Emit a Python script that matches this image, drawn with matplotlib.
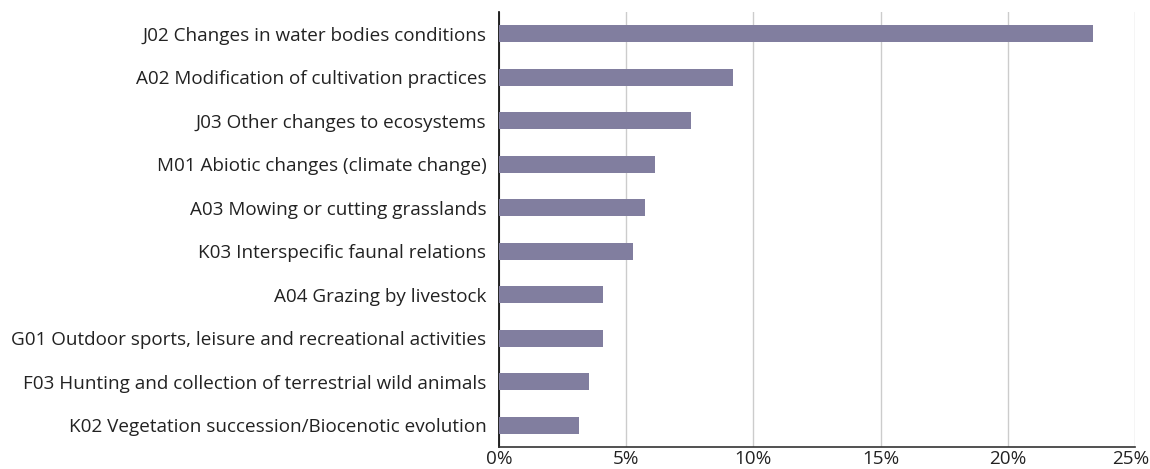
import matplotlib
matplotlib.use("Agg")
import matplotlib.pyplot as plt
import matplotlib.transforms as mtransforms
from matplotlib.ticker import FuncFormatter

categories = [
    "J02 Changes in water bodies conditions",
    "A02 Modification of cultivation practices",
    "J03 Other changes to ecosystems",
    "M01 Abiotic changes (climate change)",
    "A03 Mowing or cutting grasslands",
    "K03 Interspecific faunal relations",
    "A04 Grazing by livestock",
    "G01 Outdoor sports, leisure and recreational activities",
    "F03 Hunting and collection of terrestrial wild animals",
    "K02 Vegetation succession/Biocenotic evolution",
]
values = [23.35, 9.2, 7.55, 6.12, 5.74, 5.27, 4.07, 4.07, 3.53, 3.15]
xticks = [0, 5, 10, 15, 20, 25]

plt.rcParams['font.family'] = ['Open Sans', 'DejaVu Sans']

fig = plt.figure(figsize=(11.5, 4.69), dpi=100)
ax = fig.add_axes([499 / 1150, 22 / 469, 636 / 1150, 435 / 469])

y = list(range(len(categories)))
ax.barh(y, values, height=0.4, color="#817e9f", zorder=3)
ax.set_yticks(y)
ax.set_yticklabels(categories, fontsize=13.6, color="#222222")
ax.set_ylim(len(categories) - 0.5, -0.5)
ax.set_xlim(0, 25)
ax.set_xticks(xticks)
ax.xaxis.set_major_formatter(FuncFormatter(lambda v, p: f"{v:.0f}%"))
ax.tick_params(axis='x', labelsize=13.6, length=0, pad=2, colors="#222222")
ax.tick_params(axis='y', length=0, pad=9)
ax.grid(axis='x', color="#cccccc", linewidth=1, zorder=0)
for s in ["top", "right"]:
    ax.spines[s].set_visible(False)
ax.spines["left"].set_color("black")
ax.spines["bottom"].set_color("#333333")
ax.spines["left"].set_linewidth(1.2)
ax.spines["bottom"].set_linewidth(1.2)

fig.canvas.draw()
last = ax.get_xticklabels()[-1]
last.set_transform(last.get_transform() + mtransforms.ScaledTranslation(-4 / 100, 0, fig.dpi_scale_trans))

fig.savefig("out.png", dpi=100)
